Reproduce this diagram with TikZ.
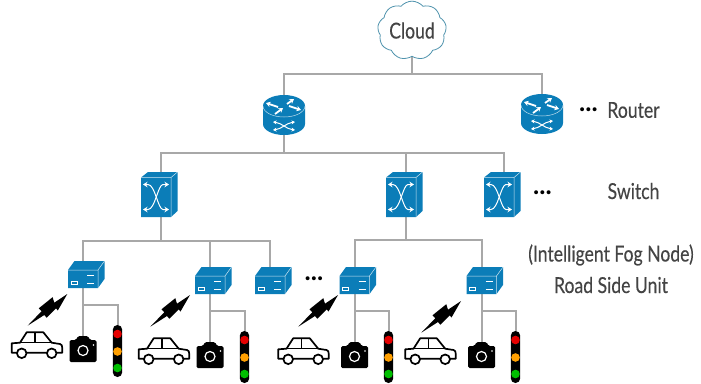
\documentclass[tikz,border=0pt]{standalone}
\usepackage{fontspec}
\setmainfont{Lato}
\newfontfamily\labelfont[FakeBold=0.25]{Lato}
\usetikzlibrary{arrows.meta,shapes.symbols}
\definecolor{devblue}{HTML}{0B7DB8}
\definecolor{linkgrey}{HTML}{A8A8A8}
\definecolor{labelgrey}{HTML}{444444}
\definecolor{cloudteal}{HTML}{4F93AD}
\newcommand{\narrowtext}[1]{\scalebox{.8}[1]{#1}}
\tikzset{
  x=1pt,y=-1pt,
  link/.style={draw=linkgrey,line width=2pt},
  holder/.style={inner sep=0pt,outer sep=0pt},
  label text/.style={inner sep=0pt,text=labelgrey,font=\labelfont\fontsize{22}{25}\selectfont},
  dots text/.style={inner sep=0pt,text=black,font=\fontsize{26}{26}\selectfont\bfseries},
  white arrow/.style={white,line width=1.8pt,-{Stealth[length=4.5pt,width=5.5pt]}},
  thin arrow/.style={white,line width=1pt,{Stealth[length=4.5pt,width=5.5pt]}-{Stealth[length=4.5pt,width=5.5pt]}},
  dev router/.pic={
    \fill[devblue] (-21,-9) arc[start angle=180,end angle=360,x radius=21,y radius=11] -- (21,9) arc[start angle=0,end angle=180,x radius=21,y radius=11] -- cycle;
    \draw[white,opacity=.75,line width=.5pt] (-21,-9) arc[start angle=180,end angle=0,x radius=21,y radius=11];
    \draw[white arrow] (-6,-8) -- (-18,-12);
    \draw[white arrow] (3,-11) -- (10,-16);
    \draw[white arrow] (-9,-1) -- (-1,-7);
    \draw[white arrow] (5,-9) -- (17,-5);
    \draw[white,line width=1pt,{Stealth[length=3.5pt,width=4pt]}-{Stealth[length=3.5pt,width=4pt]}] (-11,15) .. controls (-2,14) and (2,8) .. (11,7);
    \draw[white,line width=1pt,{Stealth[length=3.5pt,width=4pt]}-{Stealth[length=3.5pt,width=4pt]}] (-11,7) .. controls (-2,8) and (2,14) .. (11,15);
  },
  dev switch/.pic={
    \fill[devblue] (-20,-17) -- (-13,-22.5) -- (16.5,-22.5) -- (16.5,16.5) -- (10,22.5) -- (-20,22.5) -- cycle;
    \draw[white,opacity=.8,line width=.5pt] (-20,-17) -- (10,-17) -- (10,22.5) (10,-17) -- (16.5,-22.5);
    \draw[thin arrow] (-18,-10) -- (-13,-10) .. controls (-6,-10) and (-3,15) .. (2,15) -- (8,15);
    \draw[thin arrow] (-18,15) -- (-13,15) .. controls (-6,15) and (-3,-10) .. (2,-10) -- (8,-10);
  },
  dev rsu/.pic={
    \fill[devblue] (-15,-4.5) -- (-8.5,-13.5) -- (21.5,-13.5) -- (21.5,4.5) -- (15,13.5) -- (-15,13.5) -- cycle;
    \draw[white,opacity=.8,line width=.5pt] (-15,-4.5) -- (15,-4.5) -- (15,13.5) (15,-4.5) -- (21.5,-13.5);
    \draw[white,line width=.5pt] (-12,6.5) rectangle (-6,9.5);
    \draw[white,line width=.7pt] (4,1) -- (11,1) (4,8.5) -- (11,8.5);
  },
  dev car/.pic={
    \draw[black,line width=1.7pt,line join=round,fill=white]
      (-25.3,-2.7) -- (-17,-3.3) -- (-10.3,-13.7) -- (6.3,-13.7) -- (14.7,-3.3) -- (23,-2)
      .. controls (25,-1) .. (25.3,2.3) -- (25.3,6.7) -- (-25.3,6.7) -- cycle;
    \draw[black,line width=1.4pt] (-17,-3.3) -- (14.7,-3.3) (-2,-13.7) -- (-2,-3.3);
    \draw[black,line width=1.7pt,fill=white] (-15.3,7.3) circle[radius=4.8];
    \draw[black,line width=1.7pt,fill=white] (14.7,7.3) circle[radius=4.8];
  },
  dev camera/.pic={
    \fill[black,rounded corners=1.5pt] (-13.5,-9) -- (-7,-9) -- (-5,-13) -- (5,-13) -- (7,-9) -- (13.5,-9) -- (13.5,13) -- (-13.5,13) -- cycle;
    \draw[white,line width=1.2pt] (0,1.5) circle[radius=5];
    \fill[white] (10.5,-4) circle[radius=.9];
  },
  dev light/.pic={
    \fill[black,rounded corners=4.6pt] (-4.7,-26) rectangle (4.7,26);
    \fill[red!90!black] (0,-17) circle[radius=4.3];
    \fill[orange!75!yellow] (0,0.5) circle[radius=4.3];
    \fill[green!75!black] (0,17) circle[radius=4.3];
  },
  dev bolt/.pic={
    \fill[black] (20,-16) -- (7,-7.3) -- (5.3,-12.8) -- (-8.5,-1.7) -- (-5.7,1.2) -- (-19.7,15.7) -- (-3,5) -- (-.7,7.7) -- (8.7,-1.7) -- (10.5,.5) -- cycle;
  },
}
\begin{document}
\begin{tikzpicture}
\useasboundingbox (0,0) rectangle (701,383);
% holders that carry the names for connectors
\node[cloud,cloud puffs=9,cloud puff arc=100,aspect=1.25,draw=cloudteal,line width=.8pt,fill=white,inner sep=0pt,minimum width=60pt,minimum height=47pt,text=labelgrey,font=\labelfont\fontsize{22}{25}\selectfont] (cloud) at (412,30.5) {\narrowtext{Cloud}};
\node[holder,minimum width=42pt,minimum height=40pt] (r1) at (284,115) {};
\node[holder,minimum width=42pt,minimum height=40pt] (r2) at (542,114) {};
\node[holder,minimum width=33pt,minimum height=45pt] (s1) at (161,194.5) {};
\node[holder,minimum width=33pt,minimum height=45pt] (s2) at (406,194.5) {};
\node[holder,minimum width=33pt,minimum height=45pt] (s3) at (504,194.5) {};
\node[holder,minimum width=30pt,minimum height=27pt] (u1) at (83,274.5) {};
\node[holder,minimum width=30pt,minimum height=27pt] (u2) at (210,280.5) {};
\node[holder,minimum width=30pt,minimum height=27pt] (u3) at (270,280.5) {};
\node[holder,minimum width=30pt,minimum height=27pt] (u4) at (354.5,280.5) {};
\node[holder,minimum width=30pt,minimum height=27pt] (u5) at (481.5,280.5) {};
\node[holder,minimum width=27pt,minimum height=26pt] (c1) at (83,349) {};
\node[holder,minimum width=27pt,minimum height=26pt] (c2) at (210,355) {};
\node[holder,minimum width=27pt,minimum height=26pt] (c4) at (354.5,355) {};
\node[holder,minimum width=27pt,minimum height=26pt] (c5) at (481.5,355) {};
\node[holder,minimum width=9.4pt,minimum height=52pt] (l1) at (117.5,351) {};
\node[holder,minimum width=9.4pt,minimum height=52pt] (l2) at (244.5,357) {};
\node[holder,minimum width=9.4pt,minimum height=52pt] (l4) at (388.5,357) {};
\node[holder,minimum width=9.4pt,minimum height=52pt] (l5) at (515.5,357) {};
\coordinate (b0) at (411,74);
\coordinate (b1) at (284,153);
\coordinate (b2) at (161,241);
\coordinate (b3) at (406,240);
% connectors
\draw[link] (cloud.south) -- (cloud.south |- b0);
\draw[link] (r1.north) |- (b0) -| (r2.north);
\draw[link] (r1.south) -- (b1);
\draw[link] (s1.north) |- (b1) -| (s3.north);
\draw[link] (s2.north) -- (s2.north |- b1);
\draw[link] (s1.south) -- (b2);
\draw[link] (u1.north) |- (b2) -| (u3.north);
\draw[link] (u2.north) -- (u2.north |- b2);
\draw[link] (s2.south) -- (b3);
\draw[link] (u4.north) |- (b3) -| (u5.north);
\foreach \n/\dy in {1/17,2/17,4/17,5/17}{
  \draw[link] (u\n.south) -- (c\n.north);
  \draw[link] (u\n.south) ++(0,\dy) -| (l\n.north);
}
% devices
\foreach \p in {r1,r2}{\pic at (\p) {dev router};}
\foreach \p in {s1,s2,s3}{\pic at (\p) {dev switch};}
\foreach \p in {u1,u2,u3,u4,u5}{\pic at (\p) {dev rsu};}
\foreach \p in {c1,c2,c4,c5}{\pic at (\p) {dev camera};}
\foreach \p in {l1,l2,l4,l5}{\pic at (\p) {dev light};}
\foreach \x/\y in {37/346,164/352,303.5/352,430.5/352}{\pic at (\x,\y) {dev car};}
\foreach \x/\y in {47.3/310,170/311,318/311,441/317}{\pic at (\x,\y) {dev bolt};}
% texts
\node[label text] (tr) at (633.5,110) {\narrowtext{Router}};
\node[label text] (ts) at (633.5,191) {\narrowtext{Switch}};
\node[label text] (tf) at (611,255) {\narrowtext{(Intelligent Fog Node)}};
\node[label text] (tu) at (611,285) {\narrowtext{Road Side Unit}};
\node[dots text] (d1) at (588.5,110) {...};
\node[dots text] (d2) at (542.5,193) {...};
\node[dots text] (d3) at (314,279) {...};
\end{tikzpicture}
\end{document}
